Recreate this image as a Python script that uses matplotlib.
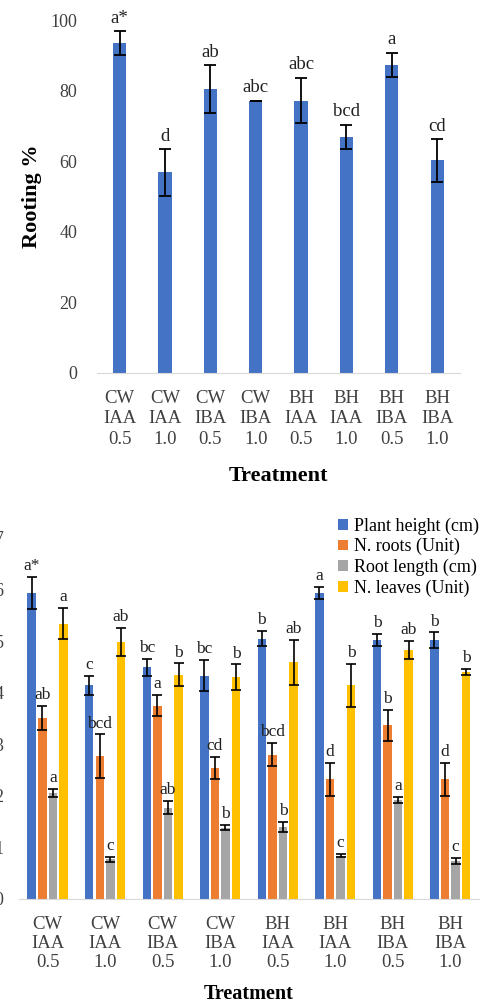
import matplotlib
matplotlib.use("Agg")
import matplotlib.pyplot as plt
import numpy as np
from matplotlib.patches import Patch

plt.rcParams['font.family'] = ['Liberation Serif', 'DejaVu Serif']

treatments = ["CW\nIAA\n0.5", "CW\nIAA\n1.0", "CW\nIBA\n0.5", "CW\nIBA\n1.0",
              "BH\nIAA\n0.5", "BH\nIAA\n1.0", "BH\nIBA\n0.5", "BH\nIBA\n1.0"]

# rooting percentage per treatment
rooting = [93.5, 56.8, 80.5, 77.2, 77.2, 66.9, 87.3, 60.2]
rooting_err = [3.3, 6.7, 6.8, 0.0, 6.5, 3.5, 3.5, 6.0]
rooting_letters = ["a*", "d", "ab", "abc", "abc", "bcd", "a", "cd"]

# growth traits per treatment
plant_height = [5.93, 4.14, 4.49, 4.33, 5.05, 5.93, 5.02, 5.02]
height_err = [0.31, 0.19, 0.17, 0.30, 0.15, 0.12, 0.12, 0.15]
height_letters = ["a*", "c", "bc", "bc", "b", "a", "b", "b"]

n_roots = [3.51, 2.77, 3.75, 2.54, 2.80, 2.32, 3.37, 2.32]
roots_err = [0.24, 0.42, 0.20, 0.22, 0.22, 0.32, 0.30, 0.32]
roots_letters = ["ab", "bcd", "a", "cd", "bcd", "d", "b", "d"]

root_length = [2.05, 0.77, 1.77, 1.38, 1.40, 0.84, 1.92, 0.74]
length_err = [0.08, 0.05, 0.13, 0.05, 0.10, 0.03, 0.06, 0.06]
length_letters = ["a", "c", "ab", "b", "b", "c", "a", "c"]

n_leaves = [5.34, 4.99, 4.35, 4.30, 4.59, 4.14, 4.83, 4.40]
leaves_err = [0.30, 0.27, 0.22, 0.25, 0.44, 0.42, 0.17, 0.06]
leaves_letters = ["a", "ab", "b", "b", "ab", "b", "ab", "b"]

series_names = ["Plant height (cm)", "N. roots (Unit)", "Root length (cm)", "N. leaves (Unit)"]
colors = ["#4472C4", "#ED7D31", "#A5A5A5", "#FFC000"]
tick_color = "#404040"
axis_color = "#D9D9D9"

fig = plt.figure(figsize=(4.82, 10.05), dpi=100)

# ---- rooting %
ax1 = fig.add_axes([0.201, 0.629, 0.753, 0.351])
x = np.arange(len(treatments))
ax1.bar(x, rooting, width=0.29, color=colors[0])
ax1.errorbar(x, rooting, yerr=rooting_err, fmt="none", ecolor="black",
             elinewidth=1.3, capsize=4.5, capthick=1.3)
for i in range(len(x)):
    ax1.annotate(rooting_letters[i], (x[i], rooting[i] + rooting_err[i]),
                 xytext=(0, 3), textcoords="offset points", ha="center",
                 va="bottom", fontsize=13.5, color="#202020")
ax1.set_xlim(-0.5, 7.5)
ax1.set_ylim(0, 100)
ax1.set_yticks([0, 20, 40, 60, 80, 100])
ax1.set_xticks(x)
ax1.set_xticklabels(treatments, fontsize=13.5, color=tick_color, linespacing=1.28)
ax1.tick_params(axis="y", length=0, pad=14, labelsize=13, labelcolor=tick_color)
ax1.tick_params(axis="x", length=0, pad=12)
for s in ["top", "right", "left"]:
    ax1.spines[s].set_visible(False)
ax1.spines["bottom"].set_color(axis_color)
ax1.set_ylabel("Rooting %", fontsize=16, fontweight="bold", labelpad=6)
ax1.set_xlabel("Treatment", fontsize=16, fontweight="bold", labelpad=13)

# ---- growth traits
ax2 = fig.add_axes([0.039, 0.1055, 0.955, 0.3592])
groups = [
    (plant_height, height_err, height_letters),
    (n_roots, roots_err, roots_letters),
    (root_length, length_err, length_letters),
    (n_leaves, leaves_err, leaves_letters),
]
step = 0.184
w = 0.148
for k, (vals, errs, letters) in enumerate(groups):
    pos = x + (k - 1.5) * step
    ax2.bar(pos, vals, width=w, color=colors[k])
    ax2.errorbar(pos, vals, yerr=errs, fmt="none", ecolor="black",
                 elinewidth=1.2, capsize=3.5, capthick=1.2)
    for i in range(len(pos)):
        ax2.annotate(letters[i], (pos[i], vals[i] + errs[i]),
                     xytext=(0, 2), textcoords="offset points", ha="center",
                     va="bottom", fontsize=12.5, color="#202020")
ax2.set_xlim(-0.5, 7.5)
ax2.set_ylim(0, 7)
ax2.set_yticks(range(8))
ax2.set_xticks(x)
ax2.set_xticklabels(treatments, fontsize=13.5, color=tick_color, linespacing=1.15)
ax2.tick_params(axis="y", length=0, pad=11, labelsize=13, labelcolor=tick_color)
ax2.tick_params(axis="x", length=0, pad=12)
for s in ["top", "right", "left"]:
    ax2.spines[s].set_visible(False)
ax2.spines["bottom"].set_color(axis_color)
ax2.set_xlabel("Treatment", fontsize=14.5, fontweight="bold", labelpad=10)

handles = [Patch(facecolor=c, edgecolor="none") for c in colors]
ax2.legend(handles, series_names, loc="upper right", bbox_to_anchor=(0.993, 0.485),
           bbox_transform=fig.transFigure, frameon=False, fontsize=13,
           handlelength=0.55, handleheight=0.55, handletextpad=0.3,
           labelspacing=0.18, borderpad=0, borderaxespad=0)

fig.savefig("out.png", dpi=100)
